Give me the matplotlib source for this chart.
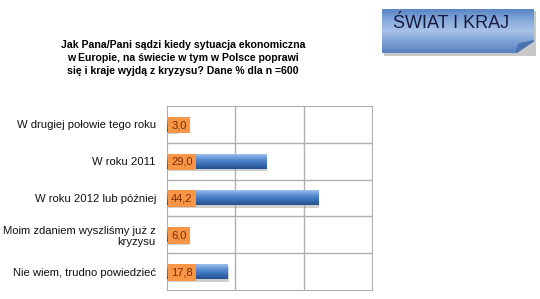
import numpy as np
import matplotlib.pyplot as plt
from matplotlib.colors import LinearSegmentedColormap
from matplotlib.patches import Rectangle, Polygon

plt.rcParams['font.family'] = ['Liberation Sans', 'DejaVu Sans']

categories = ['W drugiej połowie tego roku', 'W roku 2011', 'W roku 2012 lub później',
              'Moim zdaniem wyszliśmy już z\nkryzysu', 'Nie wiem, trudno powiedzieć']
values = [3.0, 29.0, 44.2, 6.0, 17.8]
labels = ['3,0', '29,0', '44,2', '6,0', '17,8']

title = 'Jak Pana/Pani sądzi kiedy sytuacja ekonomiczna\nw Europie, na świecie w tym w Polsce poprawi\nsię i kraje wyjdą z kryzysu? Dane % dla n =600'

fig = plt.figure(figsize=(5.4, 2.99), dpi=100)
W, H = 540, 299

# main chart
ax = fig.add_axes([167 / W, 1 - 290 / H, (372 - 167) / W, (290 - 106) / H])
ax.set_xlim(0, 60)
ax.set_ylim(len(categories) - 0.5, -0.5)

grad = np.linspace(0, 1, 50).reshape(-1, 1)
cmap = LinearSegmentedColormap.from_list('bar', ['#9cc0ea', '#5b8fd4', '#3a6fb8', '#254f8c'])
bh = 0.40
for i, v in enumerate(values):
    # shadow
    ax.add_patch(Rectangle((0.4, i - bh / 2 + 0.07), v, bh, color='#a0a0a0', alpha=0.5, lw=0, zorder=2))
    ax.imshow(grad, cmap=cmap, aspect='auto', extent=(0, v, i + bh / 2, i - bh / 2), zorder=3)
    ax.text(1.2, i + 0.02, labels[i], ha='left', va='center', fontsize=8, color='#7a2a00', zorder=5,
            bbox=dict(boxstyle='square,pad=0.3', fc='#f79646', ec='none'))

ax.set_xticks([20, 40])
ax.set_xticklabels([])
ax.set_yticks(range(len(categories)))
ax.set_yticklabels(categories, fontsize=8.1, color='#111111')
ax.tick_params(length=0, pad=8)
ax.set_yticks([i + 0.5 for i in range(len(categories) - 1)], minor=True)
ax.tick_params(which='minor', length=0)
ax.grid(True, axis='x', which='major', color='#b0b0b0', lw=1)
ax.grid(True, axis='y', which='minor', color='#b0b0b0', lw=1)
for s in ax.spines.values():
    s.set_color('#b0b0b0')
ax.set_axisbelow(True)

fig.text(183 / W, 1 - 58 / H, title, ha='center', va='center', fontsize=7.6,
         fontweight='bold', linespacing=1.38)

# badge shadow
shadow = Rectangle((384 / W, 1 - 56 / H), (536 - 384) / W, (56 - 11) / H,
                   transform=fig.transFigure, color='#c8c8c8', lw=0, zorder=-5)
fig.patches.append(shadow)
# badge
bx = fig.add_axes([382 / W, 1 - 53 / H, (534 - 382) / W, (53 - 9) / H], zorder=2)
bgrad = np.linspace(0, 1, 50).reshape(-1, 1)
bcmap = LinearSegmentedColormap.from_list('badge', ['#5a86c4', '#86a9db', '#a8c2e8', '#7c9fd4', '#5b84c0'])
bx.imshow(bgrad, cmap=bcmap, aspect='auto', extent=(0, 1, 1, 0))
bx.add_patch(Polygon([(0.88, 1), (1, 0.72), (1, 1)], closed=True, color='#c8c8c8', zorder=3))
bx.add_patch(Polygon([(0.88, 1), (1, 0.72), (0.90, 0.80)], closed=True, color='#4a73b0', zorder=4))
bx.set_xlim(0, 1)
bx.set_ylim(1, 0)
bx.axis('off')
bx.text(0.07, 0.32, 'ŚWIAT I KRAJ', ha='left', va='center', fontsize=13, color='#1a1a40')

fig.savefig('out.png', dpi=100)
